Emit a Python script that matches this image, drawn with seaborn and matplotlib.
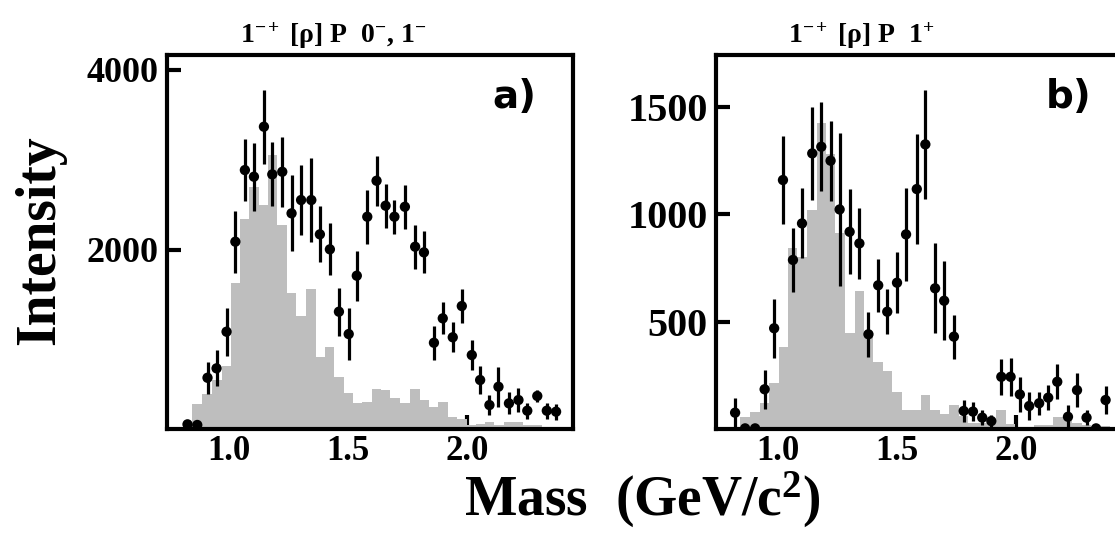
import numpy as np
import pandas as pd
import matplotlib
matplotlib.use("Agg")
import matplotlib.pyplot as plt
import seaborn as sns

# panel a) 1-+ [rho] P 0-,1-
mass_a = [0.826, 0.867, 0.910, 0.948, 0.990, 1.027, 1.067, 1.105, 1.147, 1.182,
          1.224, 1.263, 1.303, 1.346, 1.382, 1.424, 1.462, 1.503, 1.537, 1.581,
          1.620, 1.658, 1.695, 1.739, 1.782, 1.819, 1.861, 1.898, 1.940, 1.978,
          2.020, 2.055, 2.094, 2.132, 2.176, 2.216, 2.253, 2.295, 2.335, 2.374]
int_a = [52, 45, 571, 676, 1084, 2087, 2885, 2811, 3368, 2837,
         2866, 2403, 2551, 2551, 2169, 2002, 1307, 1058, 1708, 2365,
         2766, 2488, 2365, 2476, 2031, 1968, 961, 1233, 1022, 1370,
         824, 546, 267, 471, 286, 323, 204, 368, 204, 193]
err_a = [50, 50, 178, 200, 267, 345, 345, 379, 412, 356,
         390, 423, 390, 468, 312, 290, 267, 290, 279, 300,
         279, 245, 190, 245, 245, 234, 190, 178, 167, 190,
         167, 156, 111, 223, 123, 134, 89, 67, 89, 89]
mc_a = [0, 275, 390, 550, 705, 1625, 2345, 2700, 2500, 3050,
        2270, 1510, 1260, 1565, 805, 910, 585, 405, 290, 297,
        446, 440, 342, 286, 446, 320, 240, 297, 137, 110,
        45, 55, 81, 45, 81, 81, 45, 40, 15, 10]

# panel b) 1-+ [rho] P 1+
mass_b = [0.820, 0.862, 0.904, 0.944, 0.984, 1.021, 1.063, 1.101, 1.144, 1.182,
          1.221, 1.259, 1.301, 1.342, 1.380, 1.421, 1.459, 1.500, 1.538, 1.583,
          1.619, 1.660, 1.698, 1.739, 1.780, 1.819, 1.858, 1.896, 1.938, 1.977,
          2.016, 2.055, 2.097, 2.135, 2.173, 2.218, 2.256, 2.296, 2.336, 2.376]
int_b = [76, 3, 3, 185, 469, 1159, 787, 957, 1283, 1314,
         1249, 1022, 918, 864, 441, 669, 546, 681, 906, 1117,
         1325, 655, 597, 430, 84, 81, 53, 37, 243, 243,
         161, 107, 120, 146, 220, 57, 181, 53, 3, 135]
err_b = [70, 12, 12, 91, 138, 203, 149, 163, 217, 206,
         186, 357, 198, 166, 105, 123, 106, 141, 217, 256,
         254, 209, 184, 102, 50, 45, 35, 30, 84, 88,
         81, 64, 54, 58, 81, 54, 80, 35, 12, 67]
mc_b = [0, 57, 81, 120, 215, 383, 844, 799, 1019, 1426,
        1280, 911, 445, 644, 448, 313, 270, 174, 88, 88,
        158, 88, 70, 112, 60, 28, 28, 28, 88, 25,
        5, 5, 19, 19, 57, 57, 28, 19, 12, 12]

xticks = [1.0, 1.5, 2.0]
xticklabels = ["1.0", "1.5", "2.0"]
yticks_a = [2000, 4000]
yticks_b = [500, 1000, 1500]

sns.set_style("white")
plt.rcParams["font.family"] = ["Liberation Serif", "DejaVu Serif"]
plt.rcParams["text.color"] = "black"
plt.rcParams["xtick.color"] = "black"
plt.rcParams["ytick.color"] = "black"
plt.rcParams["mathtext.fontset"] = "custom"
plt.rcParams["mathtext.rm"] = "Liberation Serif"
plt.rcParams["mathtext.it"] = "Liberation Serif:italic"
plt.rcParams["mathtext.bf"] = "Liberation Serif:bold"


def draw_panel(ax, mass, inten, err, mc, ymax, yticks, yfs, letter, lx):
    df = pd.DataFrame({"mass": mass, "intensity": inten, "err": err, "mc": mc})
    m = df["mass"].to_numpy()
    half = np.diff(m) / 2
    edges = np.concatenate([[m[0] - half[0]], m[:-1] + half, [m[-1] + half[-1]]])
    # grey histogram (steps centred on the data points)
    ax.stairs(df["mc"], edges, fill=True, color="#bebebe", linewidth=0, zorder=1)
    ax.errorbar(df["mass"], df["intensity"], yerr=df["err"], fmt="none",
                ecolor="black", elinewidth=2.3, capsize=0, zorder=3)
    sns.scatterplot(data=df, x="mass", y="intensity", color="black", s=55,
                    edgecolor="none", ax=ax, zorder=4)
    ax.set_xlim(0.74, 2.445)
    ax.set_ylim(0, ymax)
    ax.set_xticks(xticks)
    ax.set_xticklabels(xticklabels, fontsize=25, fontweight="bold")
    ax.set_yticks(yticks)
    ax.set_yticklabels([str(t) for t in yticks], fontsize=yfs, fontweight="bold")
    ax.set_xlabel("")
    ax.set_ylabel("")
    ax.tick_params(direction="in", length=10, width=3, bottom=True, left=True,
                   top=False, right=False, color="black", labelcolor="black")
    ax.tick_params(axis="x", pad=4)
    ax.tick_params(axis="y", pad=6)
    for s in ax.spines.values():
        s.set_visible(True)
        s.set_linewidth(3)
        s.set_color("black")
    ax.text(lx, 0.888, letter, transform=ax.transAxes, fontsize=28,
            fontweight="bold", family="DejaVu Sans", ha="center", va="center")


fig = plt.figure(figsize=(11.15, 5.34), dpi=100)
ax_a = fig.add_axes([0.1498, 0.1966, 0.3641, 0.7004])
ax_b = fig.add_axes([0.6422, 0.1966, 0.3641, 0.7004])

draw_panel(ax_a, mass_a, int_a, err_a, mc_a, 4167, yticks_a, 26, "a)", 0.855)
draw_panel(ax_b, mass_b, int_b, err_b, mc_b, 1741, yticks_b, 29, "b)", 0.869)

fig.text(0.215, 0.919,
         r"$\mathbf{1}^{\mathbf{-+}}$ [ρ] P  $\mathbf{0}^{\mathbf{-}}$, $\mathbf{1}^{\mathbf{-}}$",
         ha="left", va="baseline", fontsize=20, fontweight="bold")
fig.text(0.707, 0.919, r"$\mathbf{1}^{\mathbf{-+}}$ [ρ] P  $\mathbf{1}^{\mathbf{+}}$",
         ha="left", va="baseline", fontsize=20, fontweight="bold")
fig.text(0.576, 0.064, r"Mass  (GeV/c$^{\mathbf{2}}$)", ha="center", va="center",
         fontsize=40, fontweight="bold")
fig.text(0.036, 0.55, "Intensity", rotation=90, ha="center", va="center",
         fontsize=40, fontweight="bold")

fig.savefig("out.png", dpi=100)
